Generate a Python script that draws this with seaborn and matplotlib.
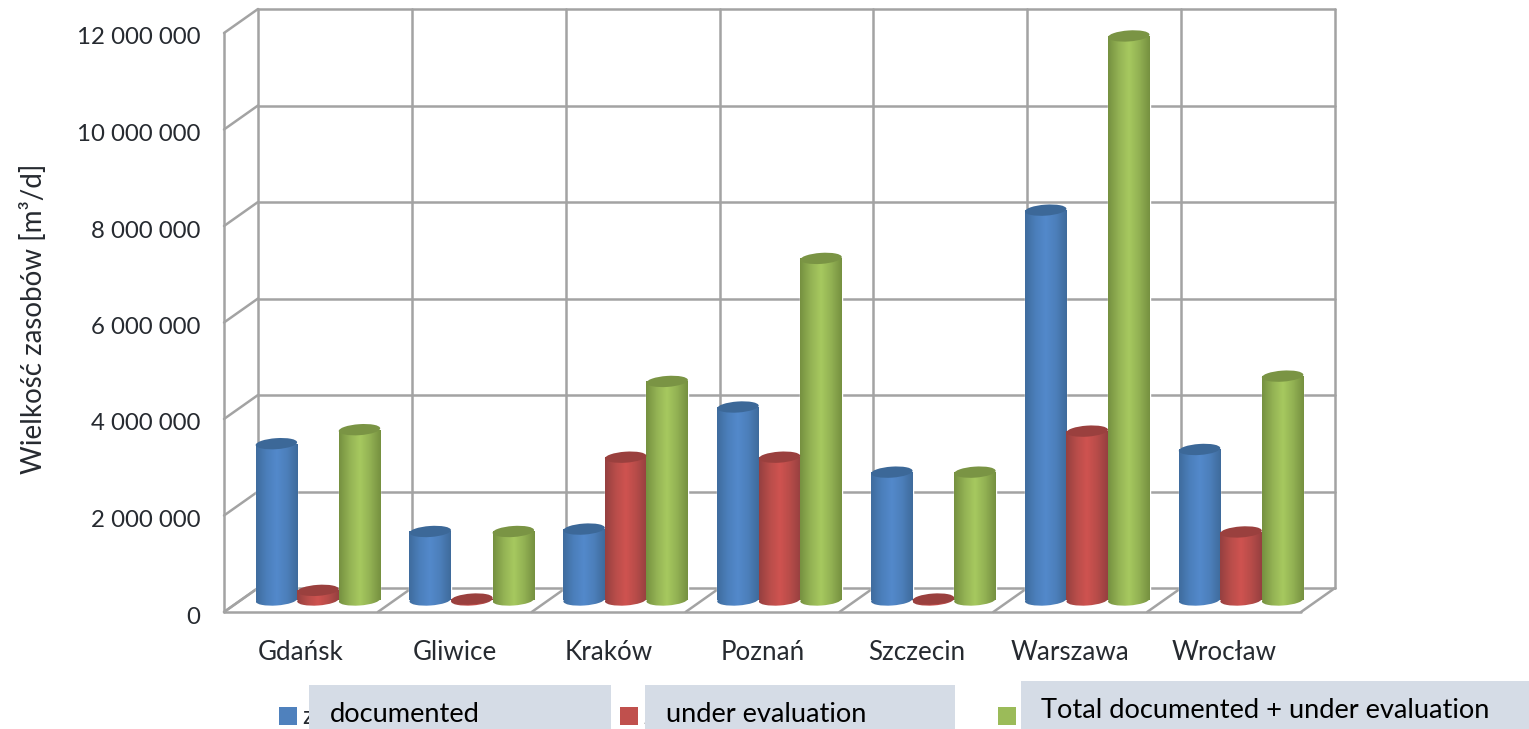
import numpy as np
import pandas as pd
import matplotlib
matplotlib.use("Agg")
import matplotlib.pyplot as plt
import seaborn as sns
from matplotlib.colors import LinearSegmentedColormap
from matplotlib.patches import Ellipse, Rectangle
from matplotlib.ticker import FuncFormatter
from matplotlib.transforms import Affine2D, ScaledTranslation

# Groundwater resources per city, m3/d
cities = ["Gdańsk", "Gliwice", "Kraków", "Poznań", "Szczecin", "Warszawa", "Wrocław"]
documented = [3240000, 1420000, 1470000, 4000000, 2650000, 8080000, 3120000]
under_evaluation = [200000, 20000, 2960000, 2960000, 20000, 3500000, 1410000]
total = [3530000, 1420000, 4530000, 7080000, 2650000, 11690000, 4640000]

series_names = ["documented", "under evaluation", "Total documented + under evaluation"]
base_colors = ["#4F81BD", "#C0504D", "#9BBB59"]
shade_stops = [
    ["#3F6C9E", "#4B7FBB", "#5389CB", "#4C7FBA", "#3F6B9C"],
    ["#964040", "#B84D4A", "#CF5350", "#B74C49", "#964040"],
    ["#769140", "#93B254", "#A7C95F", "#92B153", "#769140"],
]
cap_colors = ["#3C6898", "#9A403E", "#7A9444"]
y_ticks = [0, 2000000, 4000000, 6000000, 8000000, 10000000, 12000000]

W, H = 1529, 729
LEFT, RIGHT, TOP, BOTTOM = 241, 1318, 21, 600
DEPTH_X, DEPTH_Y = 17, 12
GRID = "#A3A3A3"
TEXT = "#262A30"
FONT = "Lato"

sns.set_theme(style="white")
plt.rcParams["font.family"] = [FONT, "DejaVu Sans"]

table = pd.DataFrame({
    "city": cities * 3,
    "series": np.repeat(series_names, len(cities)),
    "value": documented + under_evaluation + total,
})

fig = plt.figure(figsize=(W / 100, H / 100), dpi=100, facecolor="white")
ax = fig.add_axes([LEFT / W, 1 - BOTTOM / H, (RIGHT - LEFT) / W, (BOTTOM - TOP) / H])

sns.barplot(
    data=table, x="city", y="value", hue="series", hue_order=series_names,
    order=cities, palette=base_colors, width=0.81, gap=0, dodge=True,
    saturation=1, legend=False, errorbar=None, ax=ax, zorder=3,
)
ax.set_xlim(-0.5, len(cities) - 0.5)
ax.set_ylim(0, 12000000)
ax.set_autoscale_on(False)
ax.patch.set_visible(False)
sns.despine(ax=ax, left=True, bottom=True)

# Box walls and floor, sheared by the chart depth
front = ax.transData + Affine2D().translate(-DEPTH_X, -DEPTH_Y)
back = ax.transData + Affine2D().translate(DEPTH_X, DEPTH_Y)
line_style = dict(color=GRID, lw=1.8, solid_capstyle="round", zorder=1, clip_on=False)
x_low, x_high = ax.get_xlim()
edges = np.arange(x_low, x_high + 0.5)

def sheared_segment(x, y):
    a = front.transform((x, y))
    b = back.transform((x, y))
    ax.plot([a[0], b[0]], [a[1], b[1]], transform=None, **line_style)

for tick in y_ticks:
    ax.plot([x_low, x_high], [tick, tick], transform=back, **line_style)
    sheared_segment(x_low, tick)
for edge in edges:
    ax.plot([edge, edge], [0, y_ticks[-1]], transform=back, **line_style)
    sheared_segment(edge, 0)
ax.plot([x_low, x_low], [0, y_ticks[-1]], transform=front, **line_style)
ax.plot([x_low, x_high], [0, 0], transform=front, **line_style)

# Cylinders: a shaded body and bottom rim, then a darker cap
CAP_H, CAP_TILT = 11, 4
order = 3.0
for container, stops, cap in zip(ax.containers, shade_stops, cap_colors):
    cmap = LinearSegmentedColormap.from_list("cylinder", stops)
    ramp = np.linspace(0, 1, 64).reshape(1, -1)
    for bar in container:
        x0, w, h = bar.get_x(), bar.get_width(), bar.get_height()
        x_mid = x0 + w / 2
        w_px = ax.transData.transform((x0 + w, 0))[0] - ax.transData.transform((x0, 0))[0]
        bar.set_zorder(order)
        rim = Ellipse((0, 0), w_px, CAP_H, angle=CAP_TILT, facecolor="none", edgecolor="none",
                      transform=ScaledTranslation(x_mid, 0, ax.transData), zorder=order)
        ax.add_patch(rim)
        rim.set_clip_on(False)
        body = ax.imshow(ramp, cmap=cmap, aspect="auto", zorder=order + 0.1,
                         extent=(x0, x0 + w, 0, max(h, 1)), interpolation="bilinear")
        body.set_clip_path(bar)
        foot = ax.imshow(ramp, cmap=cmap, aspect="auto", zorder=order + 0.1,
                         extent=(x0, x0 + w, -300000, 300000), interpolation="bilinear")
        foot.set_clip_path(rim)
        foot.set_clip_box(fig.bbox)
        top = Ellipse((0, 0), w_px, CAP_H, angle=CAP_TILT, facecolor=cap, edgecolor="none",
                      transform=ScaledTranslation(x_mid, h, ax.transData), zorder=order + 0.2)
        ax.add_patch(top)
        top.set_clip_on(False)
        order += 0.01

ax.set_xlim(x_low, x_high)
ax.set_ylim(0, y_ticks[-1])

# Axis text sits on the front plane of the box
ax.set_yticks(y_ticks)
ax.yaxis.set_major_formatter(FuncFormatter(lambda v, _: f"{int(v):,}".replace(",", " ")))
ax.tick_params(axis="y", length=0, pad=17, labelsize=24 * 0.72, colors=TEXT)
ax.tick_params(axis="x", length=0, pad=29, labelsize=26 * 0.72, colors=TEXT)
for label in ax.get_yticklabels():
    label.set_transform(label.get_transform() + Affine2D().translate(-DEPTH_X, -15))
for label in ax.get_xticklabels():
    label.set_transform(label.get_transform() + Affine2D().translate(-DEPTH_X, 0))
ax.set_xlabel("")
ax.set_ylabel("Wielkość zasobów [m³/d]", fontsize=27.8 * 0.72, color=TEXT)
ax.yaxis.set_label_coords((47 - LEFT) / (RIGHT - LEFT), (BOTTOM - 319) / (BOTTOM - TOP))

# Legend row: swatches, the stub of each original entry, and the overlaid caption boxes
def add_rect(x0, y0, x1, y1, color, z):
    fig.add_artist(Rectangle((x0 / W, 1 - y1 / H), (x1 - x0) / W, (y1 - y0) / H,
                             transform=fig.transFigure, facecolor=color,
                             edgecolor="none", zorder=z))

swatch_x = [279, 620, 998]
box_spans = [(309, 611, 685), (645, 955, 685), (1021, 1529, 681)]
caption_x = [330, 666, 1041]
caption_y = [715, 715, 711]
for i, name in enumerate(series_names):
    add_rect(swatch_x[i], 707, swatch_x[i] + 18, 725, base_colors[i], 5)
    fig.text((swatch_x[i] + 23) / W, 1 - 716 / H, "z", fontsize=25 * 0.72, color=TEXT,
             va="center", ha="left", zorder=5)
    x0, x1, y0 = box_spans[i]
    add_rect(x0, y0, x1, H, "#D5DCE6", 6)
    fig.text(caption_x[i] / W, 1 - caption_y[i] / H, name, fontsize=27.3 * 0.72,
             color="black", va="center", ha="left", zorder=7)

fig.savefig("out.png", dpi=100, facecolor="white")
